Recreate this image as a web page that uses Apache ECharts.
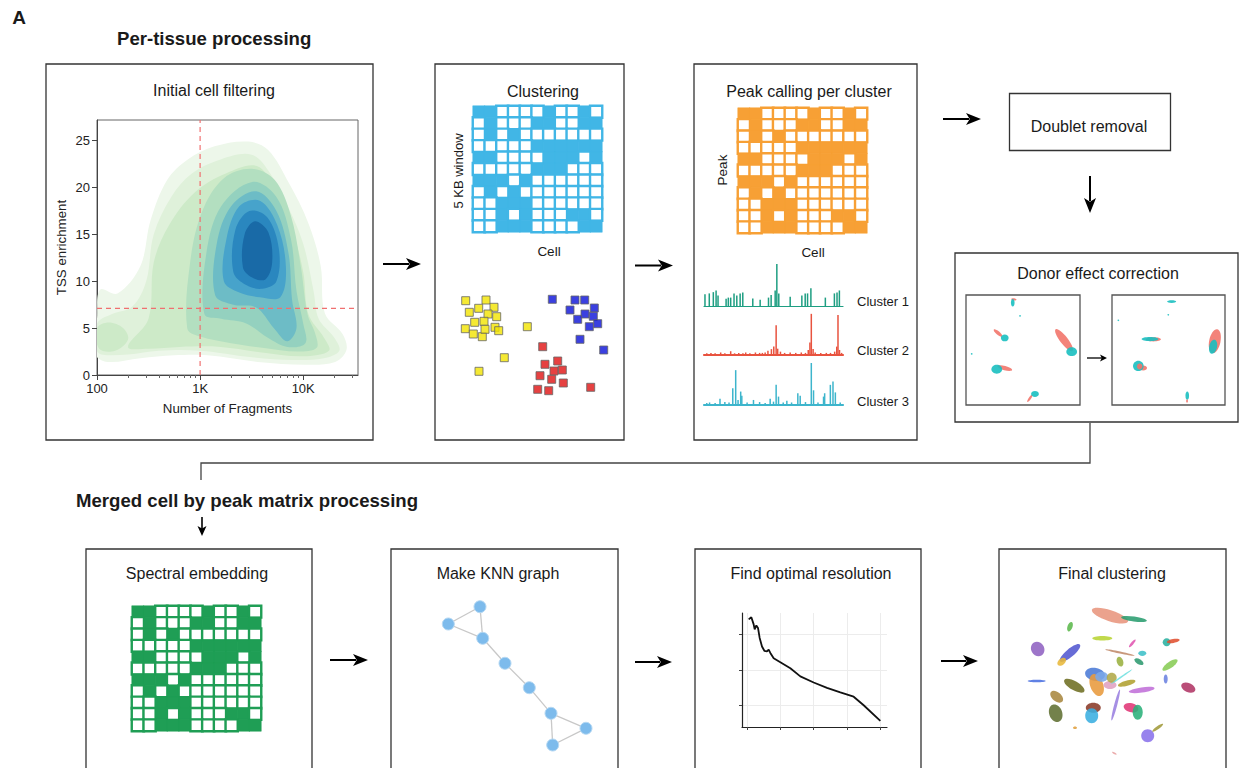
<!DOCTYPE html>
<html>
<head>
<meta charset="utf-8">
<script src="https://cdn.jsdelivr.net/npm/echarts@6/dist/echarts.min.js"></script>
<style>
html,body{margin:0;padding:0;background:#fff;}
#main{width:1248px;height:768px;}
</style>
</head>
<body>
<div id="main"></div>
<script>
var FONT = '"Liberation Sans", Arial, Helvetica, sans-serif';

// binary window/peak x cell matrix, 1 = accessible
var matrixRows = [
	[1,1,0,0,0,0,1,0,0,1,0],
	[0,1,0,0,0,1,1,0,0,1,1],
	[0,1,0,1,0,0,0,0,0,0,0],
	[0,0,0,0,0,1,1,1,1,1,1],
	[1,1,0,0,0,0,1,1,1,0,1],
	[0,0,0,0,0,1,1,1,0,0,0],
	[1,1,1,0,1,0,0,0,0,0,0],
	[0,1,0,1,0,0,0,0,0,0,0],
	[0,0,1,1,1,0,0,0,0,0,0],
	[0,0,1,0,1,0,0,0,1,1,0],
	[0,0,1,1,1,0,0,0,0,1,1]
];

// density contours (fragments, TSS enrichment), outer to inner
var densityLevels = [
	[[95,2.3],[100,6],[107,9.1],[158,8.7],[263,11.6],[331,16.5],[479,20.8],[759,23],[1380,24.4],[2951,24.9],[4571,24],[7244,20.5],[11220,16.2],[14791,11.6],[16218,6.6],[23988,4.4],[26303,2.7],[20417,1.4],[10471,1.1],[3631,1.4],[1175,2.1],[562,2.1],[263,1.8],[126,1.4]],
	[[98,2.8],[100,5.5],[140,6.5],[220,7.3],[300,10],[355,15],[525,19],[832,21.5],[1585,23],[3162,23.5],[4786,21.5],[7079,18],[10000,14],[12589,9],[14125,6],[19953,4],[22387,2.6],[15849,1.8],[7943,1.6],[3162,1.9],[1000,2.6],[398,2.6],[200,2.2],[110,2.2]],
	[[200,3.0],[316,6],[355,12],[501,16],[891,19.5],[1778,21.5],[3548,22.3],[5248,20],[7586,16],[10000,11],[11220,6.5],[15849,4],[17783,2.6],[10000,2.0],[3981,2.4],[1585,3],[631,3.0],[316,2.8]],
	[[105,2.8],[100,5],[130,5.6],[180,5],[200,3.8],[150,2.6]],
	[[750,5],[800,12],[1050,17.5],[1700,21],[3162,22],[5300,20.8],[7600,17],[9500,11.5],[11000,6.5],[13000,4.5],[13500,2.9],[8900,2.5],[4000,2.9],[2000,3.4],[1000,4.1]],
	[[1100,6.5],[1150,13],[1600,18],[3200,20.6],[5500,19],[7600,14.5],[8600,9],[10000,5.5],[10500,3.4],[7000,3],[4500,4],[2800,5.5],[1600,6]],
	[[1400,8.5],[1450,14],[2000,18],[3500,19.6],[5500,17.5],[7200,13],[7800,8],[8600,5],[7000,3.6],[5200,5],[3500,7.2],[2100,7.5]],
	[[1700,10],[1800,14.5],[2400,18],[3800,18.6],[5600,16],[6800,11.5],[6000,8.3],[3800,8.3],[2400,8.8]],
	[[2100,11],[2200,15.5],[3000,17.5],[4500,16.8],[5800,13.5],[5500,10],[4000,9.2],[2800,9.6]],
	[[2600,11.5],[2700,15],[3400,16.4],[4600,15.2],[5000,12],[4300,10.2],[3200,10.4]]
];
var densityLevelIdx = [0,1,2,2,3,4,5,6,7,8];
var densityColors = ['#edf7ea','#dff1da','#cdeac8','#b3dfc0','#94d1bf','#6dbcc6','#47a3cb','#2a87bf','#196aa7'];

var fragTicks = [100,1000,10000];
var fragMinorTicks = [200,300,400,500,600,700,800,900,2000,3000,4000,5000,6000,7000,8000,9000,20000,30000];
var tssTicks = [0,5,10,15,20,25];
var cutFragments = 1000;
var cutTss = 7.1;

// toy clustering of cells
var yellowCells = [[35.7,20.7],[56,20],[39.3,32.3],[48.7,28.3],[64,27.3],[58,34],[66.7,36.7],[44.7,42.3],[54,41.3],[35.3,48.7],[43.3,54],[52.3,56.7],[55,49.3],[65,47.3],[68.7,50.7],[97.3,46.7],[74.3,77.7],[49,91.3]];
var blueCells = [[122.3,19.3],[145,20],[154.7,20],[140,30],[164.3,28],[155,34],[163.3,36.3],[147.7,39.3],[159.3,46.7],[167.7,43.7],[150,59.3],[173.7,70]];
var redCells = [[112.7,66.7],[127.7,81],[115,84.3],[124,91],[132.3,90],[110,95.7],[121.7,99.3],[133.3,103],[107.7,109.3],[118.7,110.7],[160.7,107.3]];

// pseudo-bulk tracks: [position, height]
var cluster1Peaks = [[0.7,28],[3.8,30],[6.7,33],[8.7,37],[10.1,25],[15.9,17],[17.5,20],[19.2,20],[21.6,30],[23.6,25],[26,30],[27.9,32],[35.1,18],[40.4,15],[46.4,20],[48.3,26],[51.2,37],[52.4,100],[53.8,30],[62,22],[70.4,25],[72.8,30],[74.5,30],[76.9,42],[87.3,20],[93.8,30],[95.7,32],[97.4,37]];
var cluster2Peaks = [[2,4],[5,5],[8,4],[12,6],[15,4],[19.2,9],[22,4],[25,5],[28,4],[30,6],[33,4],[37,6],[40,5],[42,5],[44,6],[46,10],[48.5,14],[50.2,20],[51.9,71],[53,15],[55,8],[58,5],[62,6],[66,5],[70,6],[73,5],[75,12],[76.2,30],[77.2,98],[78.5,14],[80,6],[84,5],[88,5],[91,5],[94,8],[95.5,20],[96.4,95],[97.5,12],[99,5]];
var cluster3Peaks = [[2,5],[4,6],[8,5],[11.5,15],[15,7],[18,6],[20.7,40],[22.8,83],[24.5,12],[26.4,32],[27.2,22],[31,6],[35.6,12],[40,7],[44,5],[47.6,15],[50,8],[51.9,48],[53.6,20],[57,6],[59.6,10],[63,6],[67.5,28],[69.2,22],[73,7],[77.2,100],[78.8,35],[82,6],[86,20],[86.8,28],[90.9,48],[92.8,56],[94.5,30],[98,6]];

// donor effect UMAPs: [x, y, spreadX, spreadY, angle, donor]
var donorBefore = [[42,96,1,2.4,80,0],[41,93,1.6,3.4,0,1],[28,65.5,4.7,1.6,-40,0],[34,61,3.4,3.1,0,1],[86,59,12,3.5,-52,0],[92.7,48.5,4.7,4,0,1],[34,33.6,6.7,2,-15,0],[27,32.5,4.7,4,0,1],[56,6,3.8,1.1,55,0],[60.5,10,3.4,2.7,0,1],[47.4,81,0.8,0.8,0,1],[5,46.4,0.8,0.8,0,1]];
var donorAfter = [[52.8,94,4,1.3,0,1],[36.6,59.7,6.7,1.9,0,0],[33.6,59.9,7.4,1.9,0,1],[91,58,5,11,-12,0],[89.5,53,3.5,6.5,-12,1],[27.6,33.6,3.4,2.2,0,0],[23.3,35.5,4.7,4.7,0,1],[24.5,35,2.4,2.7,0,0],[66.6,8.5,1.6,3.8,0,1],[66.4,3.6,0.8,1.6,0,0],[5.6,77,0.8,0.8,0,1],[49.8,82,0.8,0.8,0,1]];

// KNN graph
var knnNodes = [[40,153.3],[8.3,136],[42.7,121.7],[65,96.7],[89.3,72.3],[111,46.7],[146,31.7],[112.7,15]];
var knnEdges = [[0,1],[0,2],[1,2],[2,3],[3,4],[4,5],[5,6],[5,7],[6,7]];

// resolution curve
var resolutionCurve = [[0.05,2.42],[0.13,2.48],[0.2,2.28],[0.23,2.14],[0.28,2.25],[0.33,2.18],[0.38,1.9],[0.45,1.66],[0.52,1.54],[0.6,1.52],[0.65,1.57],[0.7,1.48],[0.8,1.33],[1.0,1.22],[1.3,1.05],[1.6,0.82],[2.0,0.65],[2.4,0.5],[2.8,0.37],[3.2,0.25],[3.5,0.01],[4.0,-0.43]];
var resXTicks = [0,1,2,3,4];
var resYTicks = [0,1,2];

// final clustering UMAP: [x, y, spreadX, spreadY, angle, cluster]
var umapBlobs = [[100,144.3,19,5.5,-18,0],[124,141,13,2.5,-8,1],[60,133.3,2.5,5,-20,2],[92.3,121.7,10,2.3,0,3],[27.7,111,6.5,7.5,30,4],[60,107,13,4,40,5],[51.7,98.3,5,3.2,40,6],[156.7,117.7,4,4,0,7],[163.3,119,6.5,2,10,8],[122.3,116.7,5,1.3,50,9],[110,107.5,15,1,-12,10],[132.3,106.7,4,2.6,0,11],[129,98.3,5,2.6,-30,12],[110,98.3,3.2,5,20,13],[160,95,9,3.2,35,14],[155.7,81,2,4.5,0,15],[178.3,72.3,7.5,4.5,-25,16],[64.3,74.3,11.5,4.5,-30,17],[26.7,79,9,1.3,0,18],[85,85.7,10,6.5,-10,19],[86.7,75,6.5,11.5,20,20],[91.7,83.3,6.5,5,0,21],[100,75,6.5,4,0,22],[101.7,82.3,5,5,0,23],[111.7,83.3,13,0.8,35,24],[116.7,76.7,9,2.6,15,25],[46.7,63.3,7.5,4.5,-40,26],[45.7,46.7,6.5,9,20,27],[105.7,55,1.5,16,-15,28],[131.7,70,13,2.6,8,29],[83.3,52.3,7.5,5,0,30],[81.7,44.3,6.5,7.5,0,31],[121,52.3,7.5,4.5,-15,32],[127.7,47.7,5,7.5,0,33],[137.7,24.3,6.5,6.5,0,34],[147.7,32.3,6.5,1.5,35,35],[65,32.3,2,1.3,0,36],[104.3,6.7,2.6,0.8,-30,37]];
var umapColors = ['#e8957d','#2a9d6f','#5cb84c','#b8d433','#8f62c2','#5258d0','#e8b83a','#2ab0a0','#e05030','#e055b0','#c08a6a','#3fc0c8','#2e9a70','#9ab040','#88cc55','#6b82e0','#b03565','#6e6e22','#4a70e0','#4a7ad6','#e89a3c','#7aa7e8','#e0a0c0','#b0a848','#70e0e0','#b0a030','#a88840','#607032','#9a7fe0','#c070d8','#8a3a28','#3aaee0','#e03575','#2ab07a','#8a72ea','#a09a3a','#e0a040','#e8a0a0'];
var donorColors = ['#f2766b','#19bfc0'];

//********** grids (grid i uses xAxis i and yAxis i)
var grids = [], xAxes = [], yAxes = [], series = [];
function addGrid(rect, xa, ya) {
	var i = grids.length;
	grids.push(Object.assign({show: false}, rect));
	xAxes.push(Object.assign({gridIndex: i}, xa));
	yAxes.push(Object.assign({gridIndex: i}, ya));
	return i;
}
function hidden(min, max, inv) {
	return {type: 'value', min: min, max: max, inverse: !!inv, show: false};
}
var cats = matrixRows[0].map(function(v, i) { return String(i); });
function hiddenCat(inv) {
	return {type: 'category', data: cats, show: false, inverse: !!inv};
}

function matrixSeries(g, color) {
	var data = [];
	matrixRows.forEach(function(row, r) {
		row.forEach(function(v, c) {
			data.push({
				value: [c, r, v],
				itemStyle: v ? {color: color, borderColor: color, borderWidth: 0.5} :
					{color: '#fff', borderColor: color, borderWidth: 2.4}
			});
		});
	});
	return {type: 'heatmap', xAxisIndex: g, yAxisIndex: g, data: data, silent: true, emphasis: {disabled: true}};
}

function blobSeries(g, blobs, colors, opacity) {
	return {
		type: 'custom', xAxisIndex: g, yAxisIndex: g, data: blobs, silent: true,
		renderItem: function(params, api) {
			var c = api.coord([api.value(0), api.value(1)]);
			var s = api.size([api.value(2), api.value(3)]);
			return {
				type: 'ellipse', x: c[0], y: c[1], rotation: api.value(4) * Math.PI / 180,
				shape: {cx: 0, cy: 0, rx: s[0], ry: s[1]},
				style: {fill: colors[api.value(5)], opacity: opacity}
			};
		}
	};
}

var axisText = {color: '#222', fontSize: 13, fontFamily: FONT};
var nameText = {color: '#222', fontSize: 13.3, fontFamily: FONT};

// 0: initial cell filtering
var gTss = addGrid({left: 97, top: 120, width: 261, height: 255, show: true, borderColor: '#666', borderWidth: 1}, {
	type: 'log', logBase: 10, min: 100, max: 34000,
	axisLine: {show: true, onZero: false, lineStyle: {color: '#444'}},
	axisTick: {show: true, length: 5, customValues: fragTicks, lineStyle: {color: '#444'}},
	axisLabel: Object.assign({customValues: fragTicks, margin: 7, formatter: function(v) {
		v = Math.round(v);
		return v >= 1000 ? (v / 1000) + 'K' : String(v);
	}}, axisText),
	splitLine: {show: false},
	name: 'Number of Fragments', nameLocation: 'middle', nameGap: 27, nameTextStyle: nameText
}, {
	type: 'value', min: 0, max: 27.2,
	axisLine: {show: true, onZero: false, lineStyle: {color: '#444'}},
	axisTick: {show: true, length: 5, customValues: tssTicks, lineStyle: {color: '#444'}},
	axisLabel: Object.assign({customValues: tssTicks, margin: 7}, axisText),
	splitLine: {show: false},
	name: 'TSS enrichment', nameLocation: 'middle', nameGap: 29, nameTextStyle: nameText
});

series.push({
	type: 'custom', xAxisIndex: gTss, yAxisIndex: gTss, clip: true, silent: true,
	data: densityLevels.map(function(p, i) { return [1000, 10, i]; }),
	renderItem: function(params, api) {
		var i = params.dataIndex;
		var pts = densityLevels[i].map(function(p) { return api.coord(p); });
		return {type: 'polygon', shape: {points: pts, smooth: 0.35}, style: {fill: densityColors[densityLevelIdx[i]]}};
	}
});
var cutStyle = {color: '#f07070', width: 1.2, type: [5, 4]};
series.push({type: 'line', xAxisIndex: gTss, yAxisIndex: gTss, data: [[cutFragments, 0], [cutFragments, 27.2]], showSymbol: false, silent: true, lineStyle: cutStyle, z: 5});
series.push({type: 'line', xAxisIndex: gTss, yAxisIndex: gTss, data: [[100, cutTss], [34000, cutTss]], showSymbol: false, silent: true, lineStyle: cutStyle, z: 5});

// clustering
var gM1 = addGrid({left: 473, top: 106, width: 129, height: 126}, hiddenCat(), hiddenCat(true));
series.push(matrixSeries(gM1, '#41b6e6'));
var gSc = addGrid({left: 430, top: 280, width: 200, height: 130}, hidden(0, 200), hidden(0, 130, true));
[[yellowCells, '#f2e400'], [blueCells, '#0a10d8'], [redCells, '#e01212']].forEach(function(s) {
	series.push({type: 'scatter', xAxisIndex: gSc, yAxisIndex: gSc, data: s[0], symbol: 'rect', symbolSize: 8, silent: true,
		itemStyle: {color: s[1], borderColor: '#666', borderWidth: 1}});
});

// peak calling
var gM2 = addGrid({left: 738, top: 108, width: 129, height: 125}, hiddenCat(), hiddenCat(true));
series.push(matrixSeries(gM2, '#f7a035'));
[[cluster1Peaks, '#1e9e82', 264, 1.2], [cluster2Peaks, '#e8533f', 313, 2.2], [cluster3Peaks, '#3db5cc', 363, 2.2]].forEach(function(t) {
	var g = addGrid({left: 704, top: t[2], width: 139, height: 42}, {
		type: 'value', min: 0, max: 100, axisLine: {show: true, onZero: false, lineStyle: {color: t[1], width: t[3]}},
		axisTick: {show: false}, axisLabel: {show: false}, splitLine: {show: false}
	}, hidden(0, 100));
	series.push({type: 'bar', xAxisIndex: g, yAxisIndex: g, data: t[0], barWidth: 1.5, silent: true, itemStyle: {color: t[1]}});
});

// donor effect correction
var gD1 = addGrid({left: 966, top: 295, width: 114, height: 110}, hidden(0, 100), hidden(0, 100));
series.push(blobSeries(gD1, donorBefore, donorColors, 0.9));
var gD2 = addGrid({left: 1112, top: 295, width: 113, height: 110}, hidden(0, 100), hidden(0, 100));
series.push(blobSeries(gD2, donorAfter, donorColors, 0.9));

// spectral embedding
var gM3 = addGrid({left: 132, top: 606, width: 129, height: 125}, hiddenCat(), hiddenCat(true));
series.push(matrixSeries(gM3, '#1f9e55'));

// KNN graph
var gK = addGrid({left: 440, top: 595, width: 160, height: 165}, hidden(0, 160), hidden(0, 165));
series.push({
	type: 'graph', layout: 'none', coordinateSystem: 'cartesian2d', xAxisIndex: gK, yAxisIndex: gK, silent: true,
	symbolSize: 12,
	data: knnNodes.map(function(p) { return {value: p}; }),
	links: knnEdges.map(function(e) { return {source: e[0], target: e[1]}; }),
	itemStyle: {color: '#7dbbec', borderColor: '#b5d8f3', borderWidth: 1},
	lineStyle: {color: '#c8c8c8', width: 1.3, opacity: 1}
});

// optimal resolution
var gR = addGrid({left: 742, top: 613, width: 145, height: 114}, {
	type: 'value', min: -0.15, max: 4.2,
	axisLine: {show: true, onZero: false, lineStyle: {color: '#222', width: 1.2}},
	axisTick: {show: true, length: 3, customValues: resXTicks, lineStyle: {color: '#444'}},
	axisLabel: {show: false},
	splitLine: {show: true, lineStyle: {color: '#ececec'}}
}, {
	type: 'value', min: -0.6, max: 2.6,
	axisLine: {show: true, onZero: false, lineStyle: {color: '#222', width: 1.2}},
	axisTick: {show: true, length: 3, customValues: resYTicks, lineStyle: {color: '#444'}},
	axisLabel: {show: false},
	splitLine: {show: true, lineStyle: {color: '#ececec'}}
});
series.push({type: 'line', xAxisIndex: gR, yAxisIndex: gR, data: resolutionCurve, showSymbol: false, silent: true,
	lineStyle: {color: '#111', width: 1.8}});

// final clustering
var gU = addGrid({left: 1010, top: 600, width: 210, height: 160}, hidden(0, 210), hidden(0, 160));
series.push(blobSeries(gU, umapBlobs, umapColors, 0.88));

// minor ticks of the log axis, extra x axis on grid 0 (added last so indices stay aligned)
xAxes.push({
	gridIndex: gTss, type: 'log', logBase: 10, min: 100, max: 34000, position: 'bottom',
	axisLine: {show: false, onZero: false},
	axisTick: {show: true, length: 3, customValues: fragMinorTicks, lineStyle: {color: '#666'}},
	axisLabel: {show: false}, splitLine: {show: false}
});

//********** boxes, titles, arrows
var graphics = [];
function box(x, y, w, h, c) {
	graphics.push({type: 'rect', silent: true, shape: {x: x, y: y, width: w, height: h},
		style: {fill: 'none', stroke: c || '#333', lineWidth: 1.3}, z: 10});
}
function label(t, x, y, size, opt) {
	opt = opt || {};
	graphics.push({type: 'text', silent: true, x: x, y: y, rotation: opt.rot || 0, z: 10,
		style: {text: t, font: (opt.bold ? 'bold ' : '') + size + 'px ' + FONT, fill: '#1a1a1a',
			align: opt.align || 'center', textAlign: opt.align || 'center',
			verticalAlign: 'middle', textVerticalAlign: 'middle'}});
}
function arrow(x1, y1, x2, y2, head, half, w) {
	var dx = x2 - x1, dy = y2 - y1, L = Math.sqrt(dx * dx + dy * dy), ux = dx / L, uy = dy / L;
	var bx = x2 - ux * head, by = y2 - uy * head;
	graphics.push({type: 'line', silent: true, z: 10, shape: {x1: x1, y1: y1, x2: bx + ux * 3, y2: by + uy * 3},
		style: {stroke: '#000', lineWidth: w}});
	graphics.push({type: 'polygon', silent: true, z: 10, shape: {points: [[x2, y2], [bx - uy * half, by + ux * half],
		[bx + ux * head * 0.25, by + uy * head * 0.25], [bx + uy * half, by - ux * half]]}, style: {fill: '#000'}});
}

var TITLE = 16;
label('A', 19, 17, 19, {bold: true});
label('Per-tissue processing', 117, 38, 18.6, {bold: true, align: 'left'});
label('Merged cell by peak matrix processing', 76, 500, 18.6, {bold: true, align: 'left'});

box(46, 64, 327, 376);
label('Initial cell filtering', 214, 90, TITLE);
box(435, 64, 189, 376);
label('Clustering', 543, 91, TITLE);
label('5 KB window', 458, 171, 13, {rot: Math.PI / 2});
label('Cell', 549, 251, 13.5);
box(694, 64, 223, 376);
label('Peak calling per cluster', 809, 91, TITLE);
label('Peak', 722, 170, 13.5, {rot: Math.PI / 2});
label('Cell', 813, 252, 13.5);
label('Cluster 1', 857, 301, 13, {align: 'left'});
label('Cluster 2', 857, 350, 13, {align: 'left'});
label('Cluster 3', 857, 401, 13, {align: 'left'});
box(1009.5, 93.5, 161, 57);
label('Doublet removal', 1089, 126, TITLE);
box(955, 253, 283, 169);
label('Donor effect correction', 1098, 273, TITLE);
box(966, 295, 114, 110, '#555');
box(1112, 295, 113, 110, '#555');

box(86, 549, 226, 240);
label('Spectral embedding', 197, 573, TITLE);
box(391, 549, 227, 240);
label('Make KNN graph', 498, 573, TITLE);
box(695, 549, 226, 240);
label('Find optimal resolution', 811, 573, TITLE);
box(999, 549, 227, 240);
label('Final clustering', 1112, 573, TITLE);

arrow(383, 264, 421, 264, 15, 6, 2);
arrow(635, 265.5, 673, 265.5, 15, 6, 2);
arrow(943, 119, 981, 119, 15, 6, 2);
arrow(1090, 176, 1090, 213, 15, 6, 2);
arrow(1087, 358, 1107, 358, 7, 3.5, 1.3);
arrow(330, 660, 368, 660, 15, 6, 2);
arrow(635, 662, 672, 662, 15, 6, 2);
arrow(941, 661, 978, 661, 15, 6, 2);
arrow(202, 517, 202, 536, 10, 4.5, 1.6);
graphics.push({type: 'polyline', silent: true, z: 10, shape: {points: [[1090, 423], [1090, 463], [201, 463], [201, 480]]},
	style: {stroke: '#444', lineWidth: 1.3, fill: 'none'}});

var chart = echarts.init(document.getElementById('main'), null, {renderer: 'svg'});
chart.setOption({
	animation: false,
	backgroundColor: '#fff',
	textStyle: {fontFamily: FONT},
	grid: grids,
	xAxis: xAxes,
	yAxis: yAxes,
	series: series,
	graphic: {elements: graphics}
});
</script>
</body>
</html>
